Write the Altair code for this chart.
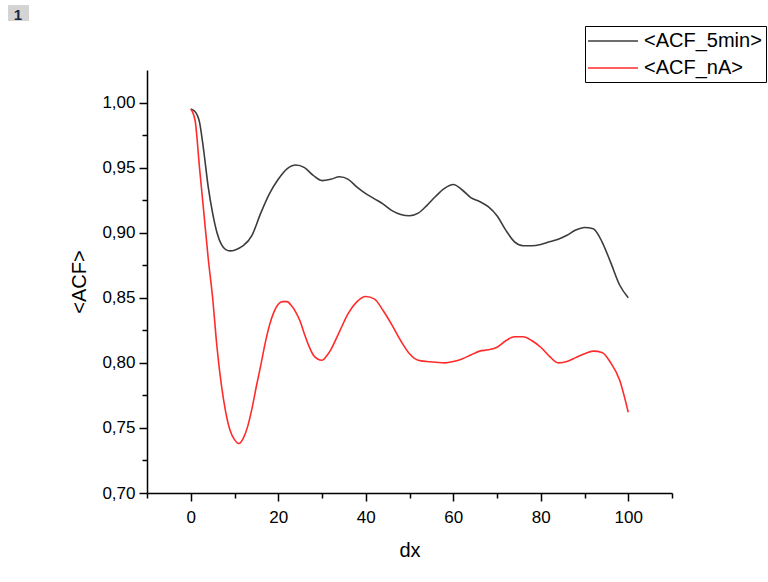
import altair as alt
import pandas as pd

dx_black = [0, 1, 2, 3, 4, 5, 6, 7, 8, 9, 10, 11, 12, 14, 16, 18, 20, 22, 24, 26, 28, 30, 32, 34, 36, 38, 40,
            42, 44, 46, 48, 50, 52, 54, 56, 58, 60, 62, 64, 66, 68, 70, 72, 74, 76, 78, 80, 82, 84, 86, 88, 90,
            92, 94, 96, 98, 100]
acf_5min = [0.995, 0.993, 0.985, 0.962, 0.935, 0.915, 0.900, 0.891, 0.887, 0.886, 0.8865, 0.888, 0.890, 0.898,
            0.915, 0.930, 0.941, 0.949, 0.952, 0.950, 0.944, 0.940, 0.941, 0.943, 0.941, 0.935, 0.930,
            0.926, 0.922, 0.917, 0.914, 0.913, 0.915, 0.921, 0.928, 0.934, 0.937, 0.933, 0.927, 0.924, 0.920,
            0.913, 0.902, 0.893, 0.890, 0.890, 0.891, 0.893, 0.895, 0.898, 0.902, 0.904, 0.903, 0.893, 0.877,
            0.860, 0.850]

dx_red = [0, 1, 2, 3, 4, 5, 6, 7, 8, 9, 10, 11, 12, 13, 14, 15, 16, 17, 18, 19, 20, 21, 22, 23, 24, 25, 26,
          27, 28, 29, 30, 31, 32, 34, 36, 38, 40, 42, 44, 46, 48, 50, 52, 54, 56, 58, 60, 62, 64, 66, 68, 70,
          72, 74, 76, 78, 80, 82, 84, 86, 88, 90, 92, 94, 96, 98, 100]
acf_na = [0.995, 0.986, 0.950, 0.915, 0.880, 0.850, 0.812, 0.783, 0.762, 0.748, 0.741, 0.738, 0.742, 0.751,
          0.765, 0.782, 0.798, 0.815, 0.829, 0.839, 0.845, 0.847, 0.847, 0.844, 0.839, 0.832, 0.822, 0.813,
          0.806, 0.803, 0.802, 0.805, 0.810, 0.824, 0.838, 0.847, 0.851, 0.849, 0.840, 0.829, 0.817, 0.807,
          0.802, 0.801, 0.8005, 0.800, 0.801, 0.803, 0.806, 0.809, 0.810, 0.812, 0.817, 0.820, 0.820, 0.817,
          0.812, 0.805, 0.800, 0.801, 0.804, 0.807, 0.809, 0.808, 0.800, 0.787, 0.762]

series_names = ["<ACF_5min>", "<ACF_nA>"]
series_colors = ["#3c3c3c", "#ff2b2b"]

x_ticks = [-10, 0, 10, 20, 30, 40, 50, 60, 70, 80, 90, 100, 110]
y_ticks = [0.70, 0.725, 0.75, 0.775, 0.80, 0.825, 0.85, 0.875, 0.90, 0.925, 0.95, 0.975, 1.00]

df = pd.concat([
    pd.DataFrame({"dx": dx_black, "acf": acf_5min, "series": series_names[0]}),
    pd.DataFrame({"dx": dx_red, "acf": acf_na, "series": series_names[1]}),
])
df["order"] = df["series"].map({series_names[0]: 0, series_names[1]: 1})

FONT = "Liberation Sans"

x_major = "abs(datum.value) % 20 == 0"
y_major = "abs(datum.value*20 - round(datum.value*20)) < 0.001"

lines = alt.Chart(df).mark_line(strokeWidth=1.6, interpolate="monotone").encode(
    x=alt.X("dx:Q", scale=alt.Scale(domain=[-10, 110], nice=False, zero=False),
            axis=alt.Axis(title="dx", values=x_ticks, grid=False,
                          labelExpr=f"({x_major}) ? datum.label : ''",
                          tickSize={"condition": {"test": x_major, "value": 8}, "value": 5},
                          labelFontSize=17, titleFontSize=20, labelFont=FONT, titleFont=FONT,
                          labelColor="#000", titleColor="#000", titleFontWeight="normal",
                          domainColor="#000", tickColor="#000", domainWidth=1.5, tickWidth=1.5,
                          labelPadding=8, titlePadding=15, labelFlush=False)),
    y=alt.Y("acf:Q", scale=alt.Scale(domain=[0.70, 1.025], nice=False, zero=False),
            axis=alt.Axis(title="<ACF>", values=y_ticks, grid=False,
                          labelExpr=f"({y_major}) ? replace(format(datum.value, '.2f'), '.', ',') : ''",
                          tickSize={"condition": {"test": y_major, "value": 8}, "value": 5},
                          labelFontSize=17, titleFontSize=20, labelFont=FONT, titleFont=FONT,
                          labelColor="#000", titleColor="#000", titleFontWeight="normal",
                          domainColor="#000", tickColor="#000", domainWidth=1.5, tickWidth=1.5,
                          labelPadding=4, titlePadding=12, labelFlush=False)),
    color=alt.Color("series:N", scale=alt.Scale(domain=series_names, range=series_colors),
                    legend=alt.Legend(title=None, orient="none", legendX=438, legendY=-44,
                                      symbolType="M-1.2,0H3.8", symbolSize=400, symbolStrokeWidth=1.5,
                                      labelFontSize=20, labelFont=FONT, labelColor="#000",
                                      strokeColor="#000", fillColor="#fff", padding=4,
                                      labelLimit=300, rowPadding=6, labelOffset=33)),
    order="order:Q",
)

badge_df = pd.DataFrame({"t": ["1"]})
badge_rect = alt.Chart(badge_df).mark_rect(color="#d4d4d4").encode(
    x=alt.value(-139), x2=alt.value(-118), y=alt.value(-65), y2=alt.value(-49))
badge_text = alt.Chart(badge_df).mark_text(font=FONT, fontSize=15, fontWeight="bold",
                                           color="#1a2a4a", align="center", baseline="alphabetic").encode(
    x=alt.value(-129), y=alt.value(-50), text="t:N")

chart = alt.layer(lines, badge_rect, badge_text).properties(
    width=525, height=423, autosize="none", background="#ffffff",
    padding={"left": 147, "top": 70, "right": 96, "bottom": 89},
).configure_view(strokeWidth=0, stroke=None)

chart.save("out.html", embed_options={"renderer": "svg", "actions": False})
